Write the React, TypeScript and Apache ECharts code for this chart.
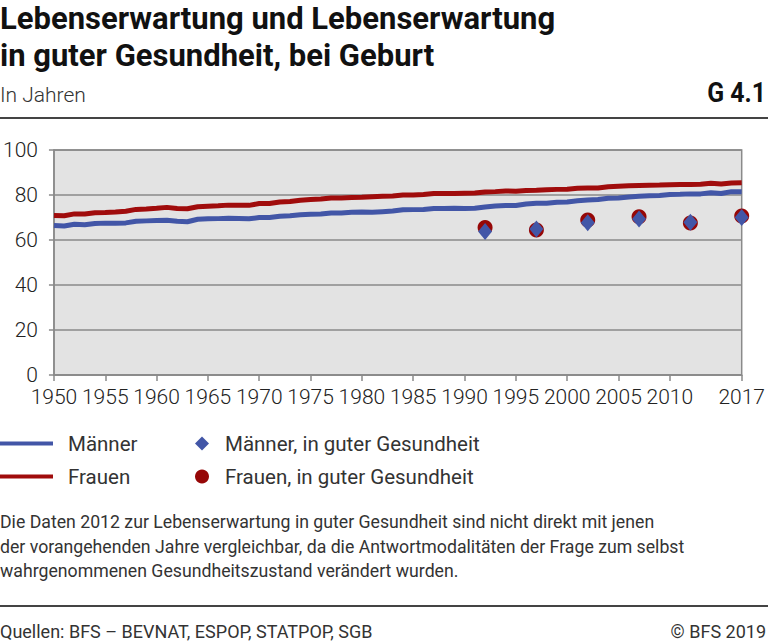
import { useRef, useEffect } from 'react'
import * as echarts from 'echarts'

const YEARS = Array.from({ length: 68 }, (_, i) => String(1950 + i))
const LABEL_YEARS = ['1950', '1955', '1960', '1965', '1970', '1975', '1980', '1985', '1990', '1995', '2000', '2005', '2010', '2017']

// Lebenserwartung bei Geburt, 1950–2017
const MEN = [
  66.4, 66.2, 67.0, 66.8, 67.3, 67.5, 67.4, 67.6, 68.3, 68.5,
  68.7, 68.8, 68.3, 68.1, 69.2, 69.4, 69.5, 69.7, 69.6, 69.4,
  70.0, 70.0, 70.6, 70.8, 71.2, 71.4, 71.6, 72.0, 72.0, 72.3,
  72.4, 72.3, 72.6, 72.9, 73.4, 73.5, 73.6, 74.0, 74.0, 74.1,
  74.0, 74.1, 74.7, 75.1, 75.3, 75.3, 76.0, 76.3, 76.3, 76.8,
  76.9, 77.4, 77.8, 78.0, 78.6, 78.7, 79.1, 79.4, 79.7, 79.8,
  80.2, 80.3, 80.5, 80.5, 81.0, 80.7, 81.5, 81.4,
]
const WOMEN = [
  70.9, 70.8, 71.6, 71.6, 72.1, 72.2, 72.4, 72.8, 73.6, 73.8,
  74.1, 74.5, 74.0, 73.9, 74.8, 75.0, 75.2, 75.5, 75.4, 75.4,
  76.2, 76.2, 76.9, 77.1, 77.7, 78.0, 78.2, 78.7, 78.7, 78.9,
  79.0, 79.2, 79.4, 79.6, 80.0, 80.0, 80.2, 80.7, 80.7, 80.7,
  80.8, 80.9, 81.3, 81.5, 81.8, 81.7, 82.0, 82.1, 82.3, 82.5,
  82.6, 83.0, 83.1, 83.1, 83.7, 83.9, 84.1, 84.2, 84.3, 84.4,
  84.6, 84.7, 84.7, 84.8, 85.2, 84.9, 85.3, 85.4,
]

// Lebenserwartung in guter Gesundheit
const HEALTH_YEARS = ['1992', '1997', '2002', '2007', '2012', '2017']
const MEN_HEALTH = [63.8, 64.9, 67.7, 69.3, 67.9, 70.0]
const WOMEN_HEALTH = [65.6, 64.4, 68.9, 70.3, 67.6, 70.7]

const BLUE = '#4256a7'
const RED = '#a00c0c'
const DOT_RED = '#960707'
const AXIS = '#8a8a8a'
const TEXT = '#333333'
const FONT = 'Roboto, "Noto Sans", sans-serif'

const showYear = (_: number, value: string) => LABEL_YEARS.includes(value)

function txt(x: number, y: number, text: string, font: string, opts: any = {}) {
  return {
    type: 'text',
    x,
    y,
    scaleX: opts.scaleX ?? 1,
    style: {
      text,
      font,
      fill: opts.fill ?? TEXT,
      align: opts.align ?? 'left',
      verticalAlign: 'middle',
    },
  }
}

function legendItem(name: string, left: number, top: number, icon: string, w: number, h: number, pad: number) {
  return {
    data: [{ name, icon }],
    left,
    top,
    itemWidth: w,
    itemHeight: h,
    padding: 0,
    selectedMode: false,
    textStyle: { fontSize: 20.5, color: TEXT, fontFamily: FONT, padding: [0, 0, 0, pad] },
  }
}

function buildOption(): echarts.EChartsOption {
  return {
    animation: false,
    backgroundColor: '#ffffff',
    textStyle: { fontFamily: FONT },
    grid: {
      left: 53,
      right: 21,
      top: 150,
      bottom: 267,
      show: true,
      backgroundColor: '#e3e3e3',
      borderColor: AXIS,
      borderWidth: 1.5,
    },
    xAxis: {
      type: 'category',
      data: YEARS,
      boundaryGap: false,
      axisLine: { lineStyle: { color: AXIS, width: 1.5 } },
      axisTick: { show: true, interval: showYear, length: 6, lineStyle: { color: AXIS, width: 1.5 } },
      axisLabel: { interval: showYear, fontSize: 21, fontWeight: 300, color: '#222', margin: 11, fontFamily: FONT },
      splitLine: { show: false },
    },
    yAxis: {
      type: 'value',
      min: 0,
      max: 100,
      interval: 20,
      axisLine: { show: true, lineStyle: { color: AXIS, width: 1.5 } },
      axisTick: { show: true, length: 5, lineStyle: { color: AXIS, width: 1.5 } },
      axisLabel: { fontSize: 21, fontWeight: 300, color: '#222', margin: 16, fontFamily: FONT },
      splitLine: { lineStyle: { color: AXIS, width: 1.5 } },
    },
    legend: [
      legendItem('Männer', 0, 433, 'rect', 53, 4, 10),
      legendItem('Frauen', 0, 466, 'rect', 53, 4, 10),
      legendItem('Männer, in guter Gesundheit', 195, 433, 'diamond', 14, 14, 11),
      legendItem('Frauen, in guter Gesundheit', 195, 466, 'circle', 14, 14, 11),
    ],
    series: [
      {
        name: 'Frauen',
        type: 'line',
        data: WOMEN,
        symbol: 'none',
        lineStyle: { color: RED, width: 5 },
        itemStyle: { color: RED },
        z: 2,
      },
      {
        name: 'Männer',
        type: 'line',
        data: MEN,
        symbol: 'none',
        lineStyle: { color: BLUE, width: 5 },
        itemStyle: { color: BLUE },
        z: 2,
      },
      {
        name: 'Frauen, in guter Gesundheit',
        type: 'scatter',
        data: HEALTH_YEARS.map((y, i) => [y, WOMEN_HEALTH[i]]),
        symbol: 'circle',
        symbolSize: 15,
        itemStyle: { color: DOT_RED, opacity: 1 },
        z: 3,
      },
      {
        name: 'Männer, in guter Gesundheit',
        type: 'scatter',
        data: HEALTH_YEARS.map((y, i) => [y, MEN_HEALTH[i]]),
        symbol: 'diamond',
        symbolSize: [14, 17],
        itemStyle: { color: BLUE, opacity: 1 },
        z: 4,
      },
    ],
    graphic: [
      txt(0, 18, 'Lebenserwartung und Lebenserwartung', `bold 31px ${FONT}`, { fill: '#111' }),
      txt(0, 55, 'in guter Gesundheit, bei Geburt', `bold 31px ${FONT}`, { fill: '#111' }),
      txt(0, 95, 'In Jahren', `300 21px ${FONT}`),
      txt(766, 93, 'G 4.1', `bold 27px ${FONT}`, { fill: '#111', align: 'right', scaleX: 0.92 }),
      {
        type: 'line',
        shape: { x1: 0, y1: 118, x2: 768, y2: 118 },
        style: { stroke: '#444', lineWidth: 2 },
      },
      txt(0, 522, 'Die Daten 2012 zur Lebenserwartung in guter Gesundheit sind nicht direkt mit jenen', `17.7px ${FONT}`),
      txt(0, 547, 'der vorangehenden Jahre vergleichbar, da die Antwortmodalitäten der Frage zum selbst', `17.7px ${FONT}`),
      txt(0, 571, 'wahrgenommenen Gesundheitszustand verändert wurden.', `17.7px ${FONT}`),
      {
        type: 'line',
        shape: { x1: 0, y1: 606, x2: 768, y2: 606 },
        style: { stroke: '#444', lineWidth: 2 },
      },
      txt(0, 631, 'Quellen: BFS – BEVNAT, ESPOP, STATPOP, SGB', `18px ${FONT}`),
      txt(766, 631, '© BFS 2019', `18px ${FONT}`, { align: 'right' }),
    ] as any,
  }
}

export default function App() {
  const ref = useRef<HTMLDivElement>(null)

  useEffect(() => {
    document.body.style.margin = '0'
    const el = ref.current
    if (!el) return
    const chart = echarts.init(el, null, { renderer: 'svg' })
    chart.setOption(buildOption())
    return () => chart.dispose()
  }, [])

  return <div ref={ref} style={{ width: 768, height: 642 }} />
}
